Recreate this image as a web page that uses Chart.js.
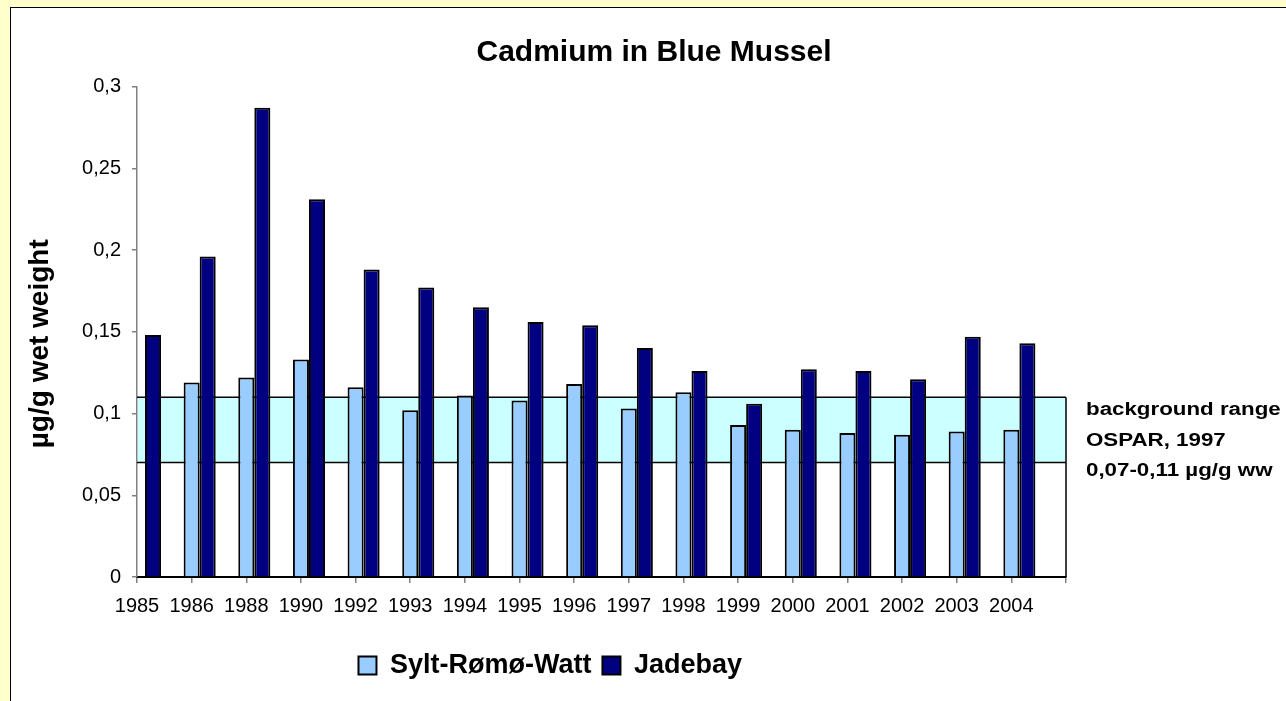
<!DOCTYPE html>
<html>
<head>
<meta charset="utf-8">
<script src="https://cdn.jsdelivr.net/npm/chart.js@4.4.1/dist/chart.umd.min.js"></script>
<style>
  html, body { margin: 0; padding: 0; overflow: hidden; width: 1286px; height: 701px; background: #FFFFCC; }
  #frame { position: absolute; left: 10px; top: 7px; width: 1300px; height: 720px; background: #fff; border: 1px solid #000; }
  #wrap { position: absolute; left: 0; top: 0; width: 1286px; height: 701px; }
</style>
</head>
<body>
<div id="frame"></div>
<div id="wrap"><canvas id="chart"></canvas></div>
<script>
// data
const years = ['1985', '1986', '1988', '1990', '1992', '1993', '1994', '1995', '1996',
  '1997', '1998', '1999', '2000', '2001', '2002', '2003', '2004'];
const xTickLabels = years.concat(['']); // last tick has no label
const sylt = [null, 0.119, 0.122, 0.133, 0.116, 0.102, 0.111, 0.108, 0.118,
  0.103, 0.113, 0.093, 0.090, 0.088, 0.087, 0.089, 0.090];
const jadebay = [0.148, 0.196, 0.287, 0.231, 0.188, 0.177, 0.165, 0.156, 0.154,
  0.140, 0.126, 0.106, 0.127, 0.126, 0.121, 0.147, 0.143];
const yMin = 0, yMax = 0.3, yStep = 0.05;
const bandLow = 0.07, bandHigh = 0.11;
const chartTitle = 'Cadmium in Blue Mussel';
const yTitle = 'µg/g wet weight';
const bandNote = ['background range', 'OSPAR, 1997', '0,07-0,11 µg/g ww'];

const FONT = "'Liberation Sans', Arial, sans-serif";
const fmt = v => String(Number(v.toFixed(2))).replace('.', ',');

// OSPAR background range band
const bandPlugin = {
  id: 'band',
  beforeDatasetsDraw(chart) {
    const { ctx, chartArea: a, scales: { y } } = chart;
    const top = y.getPixelForValue(bandHigh);
    const low = y.getPixelForValue(bandLow);
    const zero = y.getPixelForValue(0);
    ctx.save();
    ctx.fillStyle = '#CCFFFF';
    ctx.fillRect(a.left + 1, top, a.right - a.left - 1, low - top);
    ctx.strokeStyle = '#000';
    ctx.lineWidth = 1.5;
    ctx.beginPath();
    ctx.moveTo(a.left, top); ctx.lineTo(a.right, top);
    ctx.moveTo(a.left, low); ctx.lineTo(a.right, low);
    ctx.moveTo(a.right, top); ctx.lineTo(a.right, zero);
    ctx.stroke();
    ctx.restore();
  }
};

// title, axis title and band note
const textPlugin = {
  id: 'texts',
  afterDraw(chart) {
    const { ctx, chartArea: a, scales: { y } } = chart;
    ctx.save();
    ctx.fillStyle = '#000';
    ctx.textBaseline = 'middle';
    ctx.textAlign = 'center';
    ctx.font = `bold 30px ${FONT}`;
    ctx.fillText(chartTitle, a.left + 517, a.top - 33.5);

    ctx.save();
    ctx.font = `bold 28px ${FONT}`;
    ctx.translate(40, (a.top + a.bottom) / 2 + 12);
    ctx.rotate(-Math.PI / 2);
    ctx.fillText(yTitle, 0, 0);
    ctx.restore();

    ctx.font = `bold 18px ${FONT}`;
    ctx.textAlign = 'left';
    const y0 = y.getPixelForValue(bandHigh) + 13;
    ctx.translate(a.right + 20, 0);
    ctx.scale(1.24, 1);
    bandNote.forEach((line, i) => ctx.fillText(line, 0, y0 + i * 30.5));
    ctx.restore();
  }
};

new Chart(document.getElementById('chart'), {
  type: 'bar',
  data: {
    labels: xTickLabels,
    datasets: [
      { label: '', data: [], backgroundColor: 'rgba(0,0,0,0)' }, // keeps the bar pair right of the tick
      { label: 'Sylt-Rømø-Watt', data: sylt, backgroundColor: '#99CCFF', borderColor: '#000', borderWidth: 2 },
      { label: 'Jadebay', data: jadebay, backgroundColor: '#000080', borderColor: '#000', borderWidth: 2 }
    ]
  },
  options: {
    responsive: true,
    maintainAspectRatio: false,
    animation: false,
    layout: { padding: { left: 34.5, right: 220, top: 86.5, bottom: 12 } },
    datasets: { bar: { categoryPercentage: 0.88, barPercentage: 1 } },
    plugins: {
      title: { display: false },
      tooltip: { enabled: false },
      legend: {
        position: 'bottom',
        labels: {
          filter: item => item.text !== '',
          font: { family: FONT, size: 27, weight: 'bold' },
          color: '#000',
          boxWidth: 18,
          boxHeight: 18,
          padding: 11
        }
      }
    },
    scales: {
      x: {
        offset: false,
        ticks: { font: { family: FONT, size: 20 }, color: '#000', padding: 11, maxRotation: 0, autoSkip: false },
        grid: { offset: false, drawOnChartArea: false, tickLength: 6, color: '#808080', lineWidth: 1.5 },
        border: { color: '#000', width: 2 },
        afterFit: s => { s.height = 64; }
      },
      y: {
        min: yMin,
        max: yMax,
        ticks: { stepSize: yStep, font: { family: FONT, size: 20 }, color: '#000', padding: 11, callback: v => fmt(v) },
        grid: { drawOnChartArea: false, tickLength: 5, color: '#808080', lineWidth: 1.5 },
        border: { color: '#808080', width: 1.5 },
        afterFit: s => { s.width = 102.5; }
      }
    }
  },
  plugins: [bandPlugin, textPlugin]
});
</script>
</body>
</html>
